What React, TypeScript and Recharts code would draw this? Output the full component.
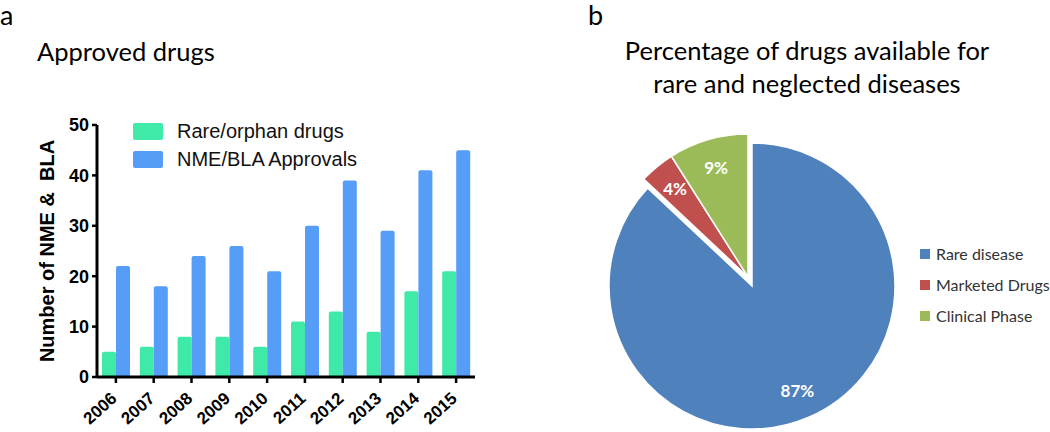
import React from 'react';
import { BarChart, Bar, XAxis, YAxis, Legend, PieChart, Pie, Cell, Label } from 'recharts';

// ---- Panel a data ----
const years = ['2006', '2007', '2008', '2009', '2010', '2011', '2012', '2013', '2014', '2015'];
const rareOrphanDrugs = [5, 6, 8, 8, 6, 11, 13, 9, 17, 21];
const nmeBlaApprovals = [22, 18, 24, 26, 21, 30, 39, 29, 41, 45];
const yTicks = [0, 10, 20, 30, 40, 50];
const barSeriesNames = ['Rare/orphan drugs', 'NME/BLA Approvals'];

// ---- Panel b data ----
const pieCategories = ['Rare disease', 'Marketed Drugs', 'Clinical Phase'];
const pieValues = [87, 4, 9];

const GREEN = '#3FEAA9';
const BLUE = '#569DF8';
const PIE_COLORS = ['#4F81BD', '#C0504D', '#9BBB59'];
const RADIAN = Math.PI / 180;

const barData = years.map((year, i) => ({
  year,
  rare: rareOrphanDrugs[i],
  nme: nmeBlaApprovals[i],
}));
const pieData = pieCategories.map((name, i) => ({ name, value: pieValues[i] }));

const XTick = (props: any) => {
  const { x, y, payload } = props;
  return (
    <g transform={`translate(${x + 2},${y + 15})`}>
      <text
        textAnchor="end"
        transform="rotate(-42)"
        fontFamily="'Liberation Sans', Arial, sans-serif"
        fontWeight="bold"
        fontSize={17}
        fill="#000"
      >
        {payload.value}
      </text>
    </g>
  );
};

const BarLegend = () => (
  <div style={{ fontFamily: "'Liberation Sans', Arial, sans-serif", fontSize: 20, color: '#111', whiteSpace: 'nowrap' }}>
    {barSeriesNames.map((name, i) => (
      <div key={name} style={{ display: 'flex', alignItems: 'center', height: 28 }}>
        <div
          style={{
            width: 30,
            height: 17,
            borderRadius: 2,
            background: i === 0 ? GREEN : BLUE,
            marginRight: 14,
          }}
        />
        <span>{name}</span>
      </div>
    ))}
  </div>
);

const PieLegend = () => (
  <div style={{ fontFamily: 'Lato, sans-serif', fontSize: 16, color: '#333', whiteSpace: 'nowrap' }}>
    {pieCategories.map((name, i) => (
      <div key={name} style={{ display: 'flex', alignItems: 'center', height: 31 }}>
        <div style={{ width: 10, height: 10, background: PIE_COLORS[i], marginRight: 6 }} />
        <span>{name}</span>
      </div>
    ))}
  </div>
);

const makePctLabel = (visible: number[]) => (props: any) => {
  const { cx, cy, midAngle, outerRadius, percent, index } = props;
  if (!visible.includes(index)) return null;
  const r = outerRadius * 0.8;
  const x = cx + r * Math.cos(-midAngle * RADIAN);
  const y = cy + r * Math.sin(-midAngle * RADIAN);
  return (
    <text
      x={x}
      y={y}
      fill="#fff"
      textAnchor="middle"
      dominantBaseline="central"
      fontFamily="Lato, sans-serif"
      fontWeight="bold"
      fontSize={17}
    >
      {`${Math.round(percent * 100)}%`}
    </text>
  );
};

const YLabel = (props: any) => {
  const { viewBox } = props;
  const cy = viewBox.y + viewBox.height / 2;
  return (
    <text
      x={47}
      y={cy}
      transform={`rotate(-90, 47, ${cy})`}
      textAnchor="middle"
      dominantBaseline="central"
      fontFamily="'Liberation Sans', Arial, sans-serif"
      fontWeight="bold"
      fontSize={20}
      fill="#000"
      style={{ whiteSpace: 'pre' }}
    >
      {'Number of NME &  BLA'}
    </text>
  );
};

export default function App() {
  return (
    <div
      style={{
        position: 'fixed',
        left: 0,
        top: 0,
        width: 1050,
        height: 432,
        background: '#fff',
        overflow: 'hidden',
      }}
    >
      <div style={{ position: 'absolute', left: 0, top: 0, fontFamily: 'Lato, sans-serif', fontSize: 27, lineHeight: '30px' }}>a</div>
      <div style={{ position: 'absolute', left: 37, top: 36, fontFamily: 'Lato, sans-serif', fontSize: 25.5 }}>
        Approved drugs
      </div>
      <div style={{ position: 'absolute', left: 0, top: 0 }}>
        <BarChart
          width={500}
          height={432}
          data={barData}
          margin={{ top: 125, right: 25, bottom: 25, left: 0 }}
          barGap={0}
          barSize={14}
        >
          <XAxis
            dataKey="year"
            height={30}
            axisLine={{ stroke: '#000', strokeWidth: 3 }}
            tickLine={{ stroke: '#000', strokeWidth: 2.5 }}
            tickSize={6}
            tickMargin={2}
            tick={<XTick />}
            interval={0}
          />
          <YAxis
            width={97}
            domain={[0, 50]}
            ticks={yTicks}
            axisLine={{ stroke: '#000', strokeWidth: 3 }}
            tickLine={{ stroke: '#000', strokeWidth: 2.5 }}
            tickSize={5}
            tickMargin={3}
            tick={{ fill: '#000', fontSize: 18, fontWeight: 'bold', fontFamily: "'Liberation Sans', Arial, sans-serif" }}
          >
            <Label content={<YLabel />} />
          </YAxis>
          <Legend
            layout="vertical"
            align="center"
            verticalAlign="middle"
            content={<BarLegend />}
            wrapperStyle={{ left: 133, top: 117, width: 'auto', height: 'auto' }}
          />
          <Bar dataKey="rare" name={barSeriesNames[0]} fill={GREEN} radius={[2, 2, 0, 0]} isAnimationActive={false} />
          <Bar dataKey="nme" name={barSeriesNames[1]} fill={BLUE} radius={[2, 2, 0, 0]} isAnimationActive={false} />
        </BarChart>
      </div>

      <div style={{ position: 'absolute', left: 588, top: 0, fontFamily: 'Lato, sans-serif', fontSize: 27, lineHeight: '30px' }}>b</div>
      <div
        style={{
          position: 'absolute',
          left: 557,
          width: 500,
          top: 34,
          textAlign: 'center',
          fontFamily: 'Lato, sans-serif',
          fontSize: 25.5,
          lineHeight: '33px',
          color: '#000',
        }}
      >
        Percentage of drugs available for
        <br />
        rare and neglected diseases
      </div>
      <div style={{ position: 'absolute', left: 560, top: 0 }}>
        <PieChart width={490} height={432} margin={{ top: 0, right: 0, bottom: 0, left: 0 }}>
          <Pie
            data={pieData}
            dataKey="value"
            nameKey="name"
            cx={192}
            cy={286}
            outerRadius={143}
            startAngle={90}
            endAngle={-270}
            labelLine={false}
            label={makePctLabel([0])}
            isAnimationActive={false}
          >
            {pieData.map((d, i) => (
              <Cell
                key={d.name}
                fill={i === 0 ? PIE_COLORS[i] : 'none'}
                stroke={i === 0 ? '#fff' : 'none'}
                strokeWidth={1.5}
              />
            ))}
          </Pie>
          <Pie
            data={pieData}
            dataKey="value"
            nameKey="name"
            cx={188}
            cy={277}
            outerRadius={143}
            startAngle={90}
            endAngle={-270}
            labelLine={false}
            label={makePctLabel([1, 2])}
            isAnimationActive={false}
          >
            {pieData.map((d, i) => (
              <Cell
                key={d.name}
                fill={i === 0 ? 'none' : PIE_COLORS[i]}
                stroke={i === 0 ? 'none' : '#fff'}
                strokeWidth={1.5}
              />
            ))}
          </Pie>
          <Legend
            layout="vertical"
            align="center"
            verticalAlign="middle"
            content={<PieLegend />}
            wrapperStyle={{ left: 360, top: 238, width: 'auto', height: 'auto' }}
          />
        </PieChart>
      </div>
    </div>
  );
}
